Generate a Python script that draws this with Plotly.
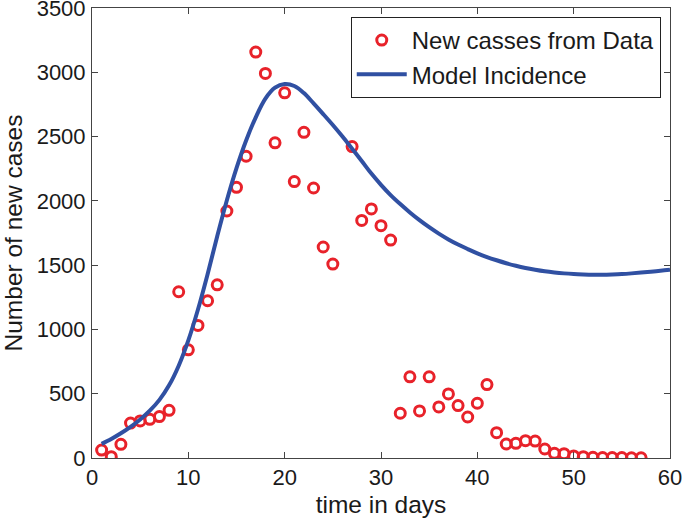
import plotly.graph_objects as go

data_days = list(range(1, 26)) + list(range(27, 58))
data_cases = [62, 10, 106, 272, 288, 301, 322, 371, 1293, 841,
              1031, 1223, 1347, 1921, 2105, 2347, 3157, 2991, 2451, 2840,
              2150, 2533, 2100, 1641, 1508,
              2422, 1848, 1937, 1807, 1695, 348, 631, 366, 631, 397,
              498, 408, 319, 426, 571, 197, 109, 114, 135, 132,
              70, 36, 34, 16, 10, 5, 3, 3, 3, 2, 2]

model_days = list(range(1, 61))
model_values = [110, 148, 192, 242, 300, 368, 452, 565, 718, 915,
                1155, 1430, 1725, 2005, 2255, 2470, 2650, 2795, 2880, 2908,
                2893, 2838, 2758, 2675, 2590, 2500, 2405, 2310, 2212, 2125,
                2045, 1975, 1910, 1850, 1795, 1745, 1700, 1660, 1625, 1592,
                1563, 1538, 1515, 1495, 1478, 1464, 1452, 1443, 1436, 1431,
                1428, 1426, 1426, 1428, 1431, 1436, 1442, 1449, 1456, 1464]

x_ticks = [0, 10, 20, 30, 40, 50, 60]
y_ticks = [0, 500, 1000, 1500, 2000, 2500, 3000, 3500]

font = "Liberation Sans, Arial, sans-serif"
txt = "#1a1a1a"

fig = go.Figure()
fig.add_trace(go.Scatter(
    x=data_days, y=data_cases, mode="markers", name="New casses from Data",
    marker=dict(symbol="circle-open", size=10, color="#E8222A",
                line=dict(width=3, color="#E8222A")),
))
fig.add_trace(go.Scatter(
    x=model_days, y=model_values, mode="lines", name="Model Incidence",
    line=dict(color="#3050A2", width=4, shape="spline", smoothing=1.0),
))

axis_common = dict(
    showgrid=False, zeroline=False, showline=True, linecolor="#444444", linewidth=1,
    mirror="ticks", ticks="inside", ticklen=6, tickcolor="#444444",
    tickfont=dict(family=font, size=22, color=txt),
    ticklabeloverflow="allow", automargin=False,
)

fig.update_layout(
    width=683, height=518,
    margin=dict(l=92, r=13, t=8, b=60),
    paper_bgcolor="white", plot_bgcolor="white",
    font=dict(family=font, color=txt),
    xaxis=dict(range=[0, 60], tickvals=x_ticks, ticklabelstandoff=0,
               title=dict(text="time in days", font=dict(family=font, size=24.5, color=txt), standoff=7),
               **axis_common),
    yaxis=dict(range=[0, 3500], tickvals=y_ticks, ticklabelstandoff=1,
               title=dict(text="Number of new cases", font=dict(family=font, size=24.5, color=txt), standoff=12),
               **axis_common),
    legend=dict(x=0.984, y=0.98, xanchor="right", yanchor="top",
                bgcolor="white", bordercolor="#222222", borderwidth=1,
                font=dict(family=font, size=24, color=txt),
                itemwidth=50, tracegroupgap=0),
    showlegend=True,
)

fig.write_html("out.html", config={"displayModeBar": False},
               post_script="document.body.style.margin='0';document.body.style.overflow='hidden';")
